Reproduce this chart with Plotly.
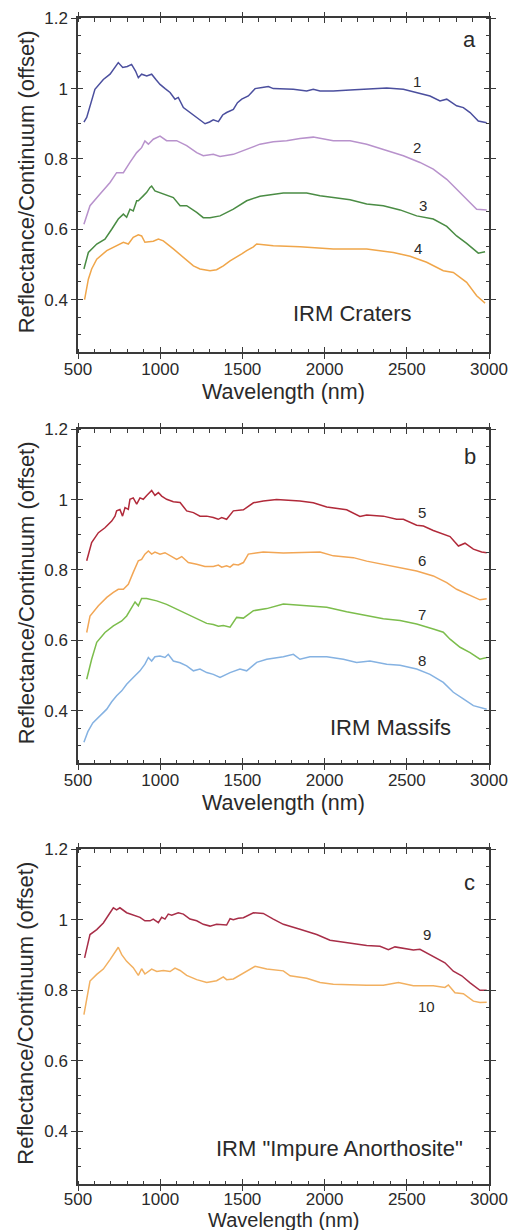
import plotly.graph_objects as go

# ---------------- data ----------------
# Panel a: IRM Craters
wl_1 = [536, 553, 603, 654, 695, 725, 745, 772, 800, 826, 850, 867, 887, 918, 948, 975, 999, 1030, 1060, 1090, 1110,
        1141, 1181, 1222, 1273, 1300, 1323, 1354, 1380, 1404, 1445, 1470, 1496, 1536, 1577, 1620, 1658, 1688, 1810,
        1891, 1931, 1972, 2053, 2155, 2276, 2378, 2479, 2560, 2641, 2702, 2743, 2803, 2844, 2885, 2935, 2986]
r_1 = [0.905, 0.918, 0.998, 1.026, 1.041, 1.060, 1.074, 1.060, 1.063, 1.069, 1.050, 1.031, 1.041, 1.036, 1.041, 1.025,
       1.012, 1.000, 0.989, 0.970, 0.975, 0.946, 0.932, 0.918, 0.900, 0.905, 0.911, 0.906, 0.925, 0.932, 0.941, 0.960,
       0.970, 0.979, 1.000, 1.003, 1.006, 1.000, 0.998, 0.993, 0.998, 0.993, 0.993, 0.996, 1.000, 1.002, 0.998, 0.988,
       0.979, 0.965, 0.970, 0.951, 0.946, 0.932, 0.908, 0.903]

wl_2 = [536, 573, 634, 695, 735, 776, 816, 857, 887, 907, 928, 958, 999, 1039, 1100, 1161, 1222, 1262, 1323, 1364,
        1445, 1526, 1607, 1688, 1769, 1850, 1931, 2053, 2155, 2256, 2357, 2479, 2580, 2661, 2743, 2803, 2864, 2925, 2986]
r_2 = [0.614, 0.667, 0.700, 0.733, 0.761, 0.761, 0.790, 0.818, 0.832, 0.851, 0.842, 0.856, 0.865, 0.852, 0.852, 0.838,
       0.818, 0.809, 0.813, 0.807, 0.813, 0.828, 0.842, 0.849, 0.852, 0.858, 0.862, 0.852, 0.852, 0.842, 0.828, 0.809,
       0.790, 0.771, 0.742, 0.714, 0.686, 0.657, 0.655]

wl_3 = [536, 563, 614, 664, 705, 735, 745, 776, 796, 816, 836, 857, 867, 897, 918, 938, 948, 968, 1019, 1080, 1121,
        1161, 1222, 1262, 1303, 1364, 1445, 1526, 1607, 1749, 1891, 1972, 2053, 2155, 2256, 2357, 2459, 2560, 2661,
        2743, 2803, 2864, 2935, 2976]
r_3 = [0.487, 0.534, 0.558, 0.572, 0.600, 0.624, 0.629, 0.643, 0.634, 0.657, 0.652, 0.681, 0.681, 0.695, 0.705, 0.719,
       0.723, 0.709, 0.700, 0.690, 0.667, 0.667, 0.648, 0.633, 0.633, 0.638, 0.657, 0.681, 0.694, 0.703, 0.703, 0.695,
       0.690, 0.684, 0.672, 0.667, 0.655, 0.638, 0.629, 0.608, 0.581, 0.560, 0.532, 0.536]

wl_4 = [540, 563, 583, 614, 675, 735, 776, 806, 836, 867, 887, 907, 958, 989, 1019, 1080, 1141, 1202, 1242, 1303, 1343,
        1384, 1425, 1465, 1496, 1526, 1567, 1587, 1688, 1850, 2053, 2256, 2418, 2520, 2621, 2722, 2783, 2864, 2925, 2976]
r_4 = [0.400, 0.458, 0.487, 0.515, 0.539, 0.553, 0.563, 0.558, 0.577, 0.584, 0.581, 0.563, 0.566, 0.572, 0.567, 0.544,
       0.520, 0.496, 0.487, 0.482, 0.485, 0.496, 0.510, 0.520, 0.530, 0.539, 0.550, 0.558, 0.553, 0.550, 0.544, 0.544,
       0.534, 0.523, 0.506, 0.482, 0.477, 0.449, 0.411, 0.390]

# Panel b: IRM Massifs
wl_5 = [553, 583, 624, 664, 705, 725, 735, 755, 771, 786, 806, 816, 836, 857, 877, 897, 918, 938, 948, 968, 989, 1009,
        1039, 1080, 1121, 1161, 1202, 1242, 1283, 1323, 1353, 1374, 1404, 1445, 1506, 1567, 1627, 1708, 1850, 1931,
        2013, 2134, 2215, 2256, 2357, 2438, 2479, 2560, 2601, 2661, 2722, 2763, 2814, 2854, 2905, 2955, 2986]
r_5 = [0.826, 0.878, 0.906, 0.920, 0.939, 0.953, 0.968, 0.972, 0.953, 0.977, 0.972, 1.001, 1.005, 0.987, 1.005, 1.001,
       1.012, 1.020, 1.026, 1.012, 1.020, 1.010, 1.001, 0.994, 0.992, 0.968, 0.963, 0.953, 0.953, 0.949, 0.944, 0.949,
       0.944, 0.968, 0.971, 0.991, 0.996, 1.000, 0.996, 0.991, 0.979, 0.971, 0.952, 0.956, 0.953, 0.944, 0.944, 0.927,
       0.925, 0.912, 0.902, 0.895, 0.868, 0.876, 0.859, 0.851, 0.849]

wl_6 = [553, 573, 624, 675, 715, 745, 776, 806, 836, 867, 887, 907, 928, 948, 968, 999, 1029, 1060, 1100, 1131, 1171,
        1222, 1272, 1323, 1354, 1374, 1404, 1425, 1445, 1475, 1506, 1536, 1627, 1749, 1850, 1972, 2053, 2175, 2256,
        2357, 2459, 2560, 2661, 2743, 2803, 2844, 2885, 2945, 2986]
r_6 = [0.622, 0.669, 0.698, 0.722, 0.736, 0.745, 0.745, 0.759, 0.793, 0.826, 0.830, 0.845, 0.854, 0.845, 0.851, 0.845,
       0.849, 0.840, 0.830, 0.838, 0.821, 0.816, 0.810, 0.810, 0.814, 0.808, 0.812, 0.808, 0.816, 0.814, 0.821, 0.845,
       0.851, 0.848, 0.849, 0.851, 0.840, 0.835, 0.825, 0.816, 0.807, 0.797, 0.783, 0.764, 0.745, 0.736, 0.729, 0.715,
       0.718]

wl_7 = [553, 583, 614, 664, 715, 766, 796, 826, 847, 867, 887, 918, 979, 1039, 1100, 1161, 1222, 1283, 1323, 1354,
        1384, 1425, 1465, 1506, 1567, 1648, 1749, 1850, 1931, 2013, 2134, 2256, 2357, 2459, 2560, 2661, 2722, 2763,
        2824, 2885, 2945, 2986]
r_7 = [0.489, 0.546, 0.594, 0.622, 0.641, 0.655, 0.669, 0.693, 0.709, 0.698, 0.719, 0.719, 0.712, 0.702, 0.688, 0.674,
       0.660, 0.648, 0.645, 0.640, 0.642, 0.637, 0.665, 0.663, 0.684, 0.690, 0.703, 0.700, 0.698, 0.694, 0.681, 0.670,
       0.661, 0.656, 0.646, 0.632, 0.623, 0.603, 0.580, 0.565, 0.546, 0.551]

wl_8 = [536, 560, 590, 614, 645, 675, 705, 735, 766, 796, 836, 877, 907, 928, 948, 968, 999, 1029, 1049, 1080, 1121,
        1161, 1202, 1242, 1283, 1323, 1364, 1425, 1485, 1526, 1587, 1648, 1749, 1810, 1850, 1911, 2013, 2114, 2195,
        2276, 2378, 2459, 2560, 2641, 2722, 2783, 2844, 2905, 2986]
r_8 = [0.310, 0.340, 0.365, 0.376, 0.390, 0.404, 0.425, 0.442, 0.456, 0.475, 0.494, 0.513, 0.532, 0.551, 0.541, 0.553,
       0.555, 0.551, 0.560, 0.541, 0.536, 0.527, 0.513, 0.518, 0.508, 0.503, 0.494, 0.508, 0.518, 0.513, 0.537, 0.546,
       0.553, 0.560, 0.546, 0.553, 0.553, 0.546, 0.537, 0.541, 0.532, 0.529, 0.518, 0.503, 0.480, 0.452, 0.433, 0.414,
       0.404]

# Panel c: IRM "Impure Anorthosite"
wl_9 = [540, 573, 614, 654, 695, 715, 735, 755, 796, 847, 877, 907, 938, 958, 989, 1009, 1029, 1049, 1070, 1110, 1141,
        1181, 1222, 1262, 1303, 1343, 1384, 1404, 1425, 1445, 1475, 1506, 1567, 1627, 1688, 1749, 1850, 1952, 2033,
        2155, 2256, 2337, 2388, 2428, 2489, 2540, 2580, 2661, 2732, 2783, 2834, 2885, 2945, 2986]
r_9 = [0.892, 0.958, 0.972, 0.991, 1.020, 1.034, 1.028, 1.034, 1.020, 1.013, 1.007, 0.997, 0.997, 1.002, 0.992, 1.007,
       1.002, 1.016, 1.013, 1.020, 1.016, 1.002, 0.997, 0.987, 0.982, 0.987, 0.987, 0.985, 1.003, 1.000, 1.004, 1.006,
       1.020, 1.018, 1.002, 0.987, 0.973, 0.958, 0.942, 0.933, 0.927, 0.925, 0.915, 0.923, 0.917, 0.914, 0.916, 0.897,
       0.878, 0.854, 0.841, 0.821, 0.800, 0.800]

wl_10 = [536, 553, 563, 573, 614, 654, 695, 725, 745, 766, 796, 836, 867, 887, 907, 948, 979, 1019, 1060, 1090, 1121,
         1161, 1222, 1283, 1343, 1384, 1404, 1445, 1506, 1577, 1648, 1749, 1790, 1891, 1972, 2053, 2256, 2357, 2449,
         2540, 2661, 2732, 2753, 2793, 2844, 2905, 2945, 2986]
r_10 = [0.731, 0.770, 0.802, 0.826, 0.845, 0.860, 0.887, 0.906, 0.922, 0.901, 0.882, 0.864, 0.842, 0.861, 0.846, 0.860,
        0.853, 0.856, 0.853, 0.863, 0.856, 0.842, 0.830, 0.822, 0.827, 0.838, 0.830, 0.832, 0.849, 0.868, 0.860, 0.855,
        0.841, 0.834, 0.822, 0.817, 0.814, 0.814, 0.822, 0.813, 0.813, 0.808, 0.815, 0.793, 0.790, 0.769, 0.765, 0.766]

series = [
    (1, wl_1, r_1, "#4b4f9e"), (2, wl_2, r_2, "#b892cc"), (3, wl_3, r_3, "#4a8c44"), (4, wl_4, r_4, "#f0a64a"),
    (5, wl_5, r_5, "#b12a3a"), (6, wl_6, r_6, "#f2a655"), (7, wl_7, r_7, "#7cbd4c"), (8, wl_8, r_8, "#85b2e2"),
    (9, wl_9, r_9, "#a82e48"), (10, wl_10, r_10, "#f2b060"),
]
panel_of = {1: 1, 2: 1, 3: 1, 4: 1, 5: 2, 6: 2, 7: 2, 8: 2, 9: 3, 10: 3}

# curve number labels: (text, x, y, panel)
curve_labels = [("1", 2562, 1.02, 1), ("2", 2562, 0.833, 1), ("3", 2600, 0.667, 1), ("4", 2570, 0.544, 1),
                ("5", 2591, 0.963, 2), ("6", 2591, 0.826, 2), ("7", 2591, 0.674, 2), ("8", 2591, 0.541, 2),
                ("9", 2621, 0.958, 3), ("10", 2621, 0.755, 3)]
panel_letters = [("a", 2884, 1.14, 1), ("b", 2884, 1.122, 2), ("c", 2880, 1.106, 3)]
panel_titles = [("IRM Craters", 2167, 0.359, 1), ("IRM Massifs", 2398, 0.353, 2),
                ('IRM "Impure Anorthosite"', 2088, 0.352, 3)]

x_range = [500, 3000]
y_range = [0.25, 1.2]
x_title = "Wavelength (nm)"
y_title = "Reflectance/Continuum (offset)"

# ---------------- figure ----------------
W, H = 515, 1230
FONT = "Liberation Sans, Arial, sans-serif"
TXT = "#2a2a2a"
AX = "#3a3a3a"

# panel pixel extents (top, bottom)
panel_px = {1: (18.3, 352.3), 2: (429.3, 763.3), 3: (849.3, 1184.0)}
# x-title offset / size / tick-label standoff per panel (last one tightened to stay on the page)
xtitle_shift = {1: -40, 2: -40, 3: -36}
xtitle_size = {1: 21.5, 2: 21.5, 3: 20}
xtick_standoff = {1: -4, 2: -4, 3: -6}

fig = go.Figure()
for n, wl, r, col in series:
    p = panel_of[n]
    fig.add_trace(go.Scatter(x=wl, y=r, mode="lines", line=dict(color=col, width=1.5),
                             xaxis="x" if p == 1 else f"x{p}", yaxis="y" if p == 1 else f"y{p}",
                             showlegend=False, hoverinfo="skip"))

layout = dict(width=W, height=H, margin=dict(l=78, r=26, t=0, b=0, autoexpand=False),
              paper_bgcolor="white", plot_bgcolor="white", showlegend=False,
              font=dict(family=FONT, color=TXT))

for p in (1, 2, 3):
    top, bot = panel_px[p]
    dom = [1 - bot / H, 1 - top / H]
    sx = "" if p == 1 else str(p)
    ox, oy = str(p + 3), str(p + 3)
    layout[f"xaxis{sx}"] = dict(
        domain=[0, 1], anchor=f"y{sx}", range=x_range, dtick=500, tick0=500, automargin=False,
        showgrid=False, zeroline=False, showline=True, linecolor=AX, linewidth=1.5, mirror="ticks",
        ticks="outside", ticklen=5, tickwidth=1.3, tickcolor=AX, ticklabelstandoff=xtick_standoff[p],
        minor=dict(dtick=100, tick0=500, ticks="inside", ticklen=3.5, tickwidth=1, tickcolor=AX, showgrid=False),
        tickfont=dict(family=FONT, size=17, color=TXT),
    )
    layout[f"yaxis{sx}"] = dict(
        domain=dom, anchor=f"x{sx}", range=y_range, dtick=0.2, tick0=0.4, automargin=False,
        showgrid=False, zeroline=False, showline=True, linecolor=AX, linewidth=1.5, mirror="ticks",
        ticks="outside", ticklen=5, tickwidth=1.3, tickcolor=AX,
        minor=dict(dtick=0.05, tick0=0.4, ticks="inside", ticklen=3.5, tickwidth=1, tickcolor=AX, showgrid=False),
        tickfont=dict(family=FONT, size=17, color=TXT),
    )
    # overlay axes that add the inner half of the major ticks
    layout[f"xaxis{ox}"] = dict(
        overlaying="x" if p == 1 else f"x{p}", anchor=f"y{oy}", range=x_range, dtick=500, tick0=500,
        automargin=False, showgrid=False, zeroline=False, showline=False, mirror="ticks", ticks="inside",
        ticklen=5, tickwidth=1.3, tickcolor=AX, showticklabels=False)
    layout[f"yaxis{oy}"] = dict(
        overlaying="y" if p == 1 else f"y{p}", anchor=f"x{ox}", domain=dom, range=y_range, dtick=0.2, tick0=0.4,
        automargin=False, showgrid=False, zeroline=False, showline=False, mirror="ticks", ticks="inside",
        ticklen=5, tickwidth=1.3, tickcolor=AX, showticklabels=False)

# dummy invisible traces so overlay subplots are drawn
for p in (1, 2, 3):
    fig.add_trace(go.Scatter(x=[None], y=[None], xaxis=f"x{p + 3}", yaxis=f"y{p + 3}",
                             showlegend=False, hoverinfo="skip"))

annotations = []


def ref(p):
    return ("x" if p == 1 else f"x{p}"), ("y" if p == 1 else f"y{p}")


for t, x, y, p in curve_labels:
    xr, yr = ref(p)
    annotations.append(dict(text=t, x=x, y=y, xref=xr, yref=yr, showarrow=False,
                            font=dict(family=FONT, size=15, color=TXT)))
for t, x, y, p in panel_letters:
    xr, yr = ref(p)
    annotations.append(dict(text=t, x=x, y=y, xref=xr, yref=yr, showarrow=False,
                            font=dict(family=FONT, size=22, color=TXT)))
for t, x, y, p in panel_titles:
    xr, yr = ref(p)
    annotations.append(dict(text=t, x=x, y=y, xref=xr, yref=yr, showarrow=False,
                            font=dict(family=FONT, size=22, color=TXT)))
# axis titles
for p in (1, 2, 3):
    xr, yr = ref(p)
    annotations.append(dict(text=x_title, x=0.5, y=0, xref=f"{xr} domain", yref=f"{yr} domain",
                            yanchor="middle", xanchor="center", yshift=xtitle_shift[p], showarrow=False,
                            font=dict(family=FONT, size=xtitle_size[p], color=TXT)))
    annotations.append(dict(text=y_title, x=0, y=0.5, xref=f"{xr} domain", yref=f"{yr} domain",
                            xanchor="center", yanchor="middle", xshift=-52, yshift=3, textangle=-90,
                            showarrow=False, font=dict(family=FONT, size=22, color=TXT)))
layout["annotations"] = annotations

fig.update_layout(**layout)
fig.write_html("out.html", config={"displayModeBar": False},
               post_script="document.body.style.margin='0';")
